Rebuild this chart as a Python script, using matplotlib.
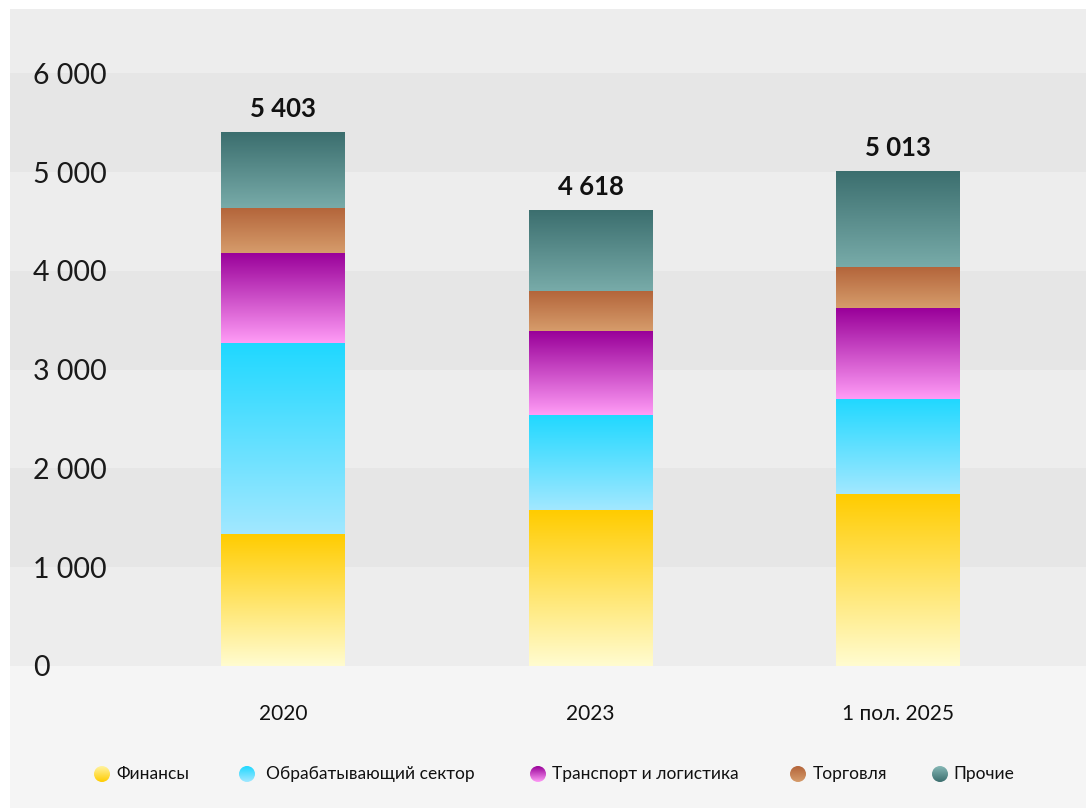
import numpy as np
import matplotlib
matplotlib.use("Agg")
import matplotlib.pyplot as plt
from matplotlib.colors import to_rgb
from matplotlib.patches import Ellipse, Rectangle

plt.rcParams['font.family'] = ['Lato', 'Noto Sans', 'DejaVu Sans']

# ---------------- data ----------------
periods = ["2020", "2023", "1 пол. 2025"]
series_names = ["Финансы", "Обрабатывающий сектор", "Транспорт и логистика", "Торговля", "Прочие"]
finance = [1333, 1577, 1740]
manufacturing = [1932, 966, 966]
transport = [916, 845, 916]
trade = [458, 406, 417]
totals = [5403, 4618, 5013]
other = [t - a - b - c - d for t, a, b, c, d in zip(totals, finance, manufacturing, transport, trade)]
total_labels = ["5 403", "4 618", "5 013"]
y_ticks = [0, 1000, 2000, 3000, 4000, 5000, 6000]
y_tick_labels = ["0", "1 000", "2 000", "3 000", "4 000", "5 000", "6 000"]

# gradient (top, bottom) colours per series
grad_colors = [
    ("#ffcc00", "#fffcd0"),
    ("#1fd8ff", "#a2e8ff"),
    ("#990099", "#ff9cf6"),
    ("#b3643a", "#d69c6b"),
    ("#3b6e6e", "#78aba9"),
]
# legend circle gradients (top, bottom)
legend_grad = [
    ("#fff3a0", "#ffcc00"),
    ("#1fd8ff", "#a2e8ff"),
    ("#990099", "#ff9cf6"),
    ("#b3643a", "#d69c6b"),
    ("#86b8b6", "#3b6e6e"),
]

W, H = 1086, 810
fig = plt.figure(figsize=(W / 100, H / 100), dpi=100, facecolor="white")

# background panel
bg = fig.add_axes([0, 0, 1, 1], zorder=-10)
bg.set_xlim(0, W)
bg.set_ylim(H, 0)
bg.axis("off")
bg.add_patch(Rectangle((10, 9), W - 10, H - 11, facecolor="#f5f5f5", edgecolor="none"))

ax_left, ax_right, ax_top, ax_bottom = 10, 1086, 9, 666
ax = fig.add_axes([ax_left / W, 1 - ax_bottom / H, (ax_right - ax_left) / W, (ax_bottom - ax_top) / H])
ax.set_facecolor("none")
XMIN, XMAX = -0.888, 2.611
YMAX = 6650

# alternating bands
edges = y_ticks + [YMAX]
for i in range(len(edges) - 1):
    ax.axhspan(edges[i], edges[i + 1], color="#ededed" if i % 2 == 0 else "#e6e6e6", lw=0, zorder=0)


def grad_image(top, bottom, n=256):
    t = np.linspace(0, 1, n)[:, None]
    c0 = np.array(to_rgb(bottom))
    c1 = np.array(to_rgb(top))
    img = c0[None, :] * (1 - t) + c1[None, :] * t
    return img[:, None, :]


x = np.arange(len(periods))
bar_w = 0.403
bottoms = np.zeros(len(periods))
all_series = [finance, manufacturing, transport, trade, other]
for vals, (ctop, cbot), name in zip(all_series, grad_colors, series_names):
    bars = ax.bar(x, vals, bar_w, bottom=bottoms, color="none", edgecolor="none", zorder=2, label=name)
    for rect in bars:
        x0, y0 = rect.get_x(), rect.get_y()
        w, h = rect.get_width(), rect.get_height()
        im = ax.imshow(grad_image(ctop, cbot), extent=(x0, x0 + w, y0, y0 + h), origin="lower",
                       aspect="auto", zorder=3, interpolation="bilinear")
        im.set_clip_path(rect)
    bottoms = bottoms + np.array(vals)

for xi, tot, lab in zip(x, totals, total_labels):
    ax.annotate(lab, (xi, tot), xytext=(0, 8), textcoords="offset points", ha="center", va="bottom",
                fontsize=18.5, fontweight="bold", color="#111111")

ax.set_xlim(XMIN, XMAX)
ax.set_ylim(0, YMAX)
ax.set_xticks(x)
ax.set_xticklabels(periods, fontsize=15, color="#111111")
ax.set_yticks(y_ticks)
ax.set_yticklabels(y_tick_labels, fontsize=20.5, color="#1a1a1a", fontweight="normal")
ax.tick_params(axis="x", length=0, pad=27)
ax.tick_params(axis="y", length=0, pad=-16.5)
for lbl in ax.get_yticklabels():
    lbl.set_horizontalalignment("left")
for s in ax.spines.values():
    s.set_visible(False)

# legend (manual, gradient circles)
lg = fig.add_axes([0, 0, 1, 1], zorder=5)
lg.set_xlim(0, W)
lg.set_ylim(H, 0)
lg.axis("off")
circle_x = [102, 247, 538, 798, 940]
text_x = [116, 266, 552, 813, 953]
ly = 774
for cx, tx, name, (ct, cb) in zip(circle_x, text_x, series_names, legend_grad):
    ell = Ellipse((cx, ly), 16, 16, facecolor="none", edgecolor="none")
    lg.add_patch(ell)
    im = lg.imshow(grad_image(ct, cb)[::-1], extent=(cx - 8, cx + 8, ly + 8, ly - 8), origin="upper",
                   aspect="auto", interpolation="bilinear")
    im.set_clip_path(ell)
    lg.text(tx, ly, name, fontsize=12.5, va="center", ha="left", color="#111111")
lg.set_xlim(0, W)
lg.set_ylim(H, 0)

fig.savefig("out.png", dpi=100, facecolor=fig.get_facecolor())
